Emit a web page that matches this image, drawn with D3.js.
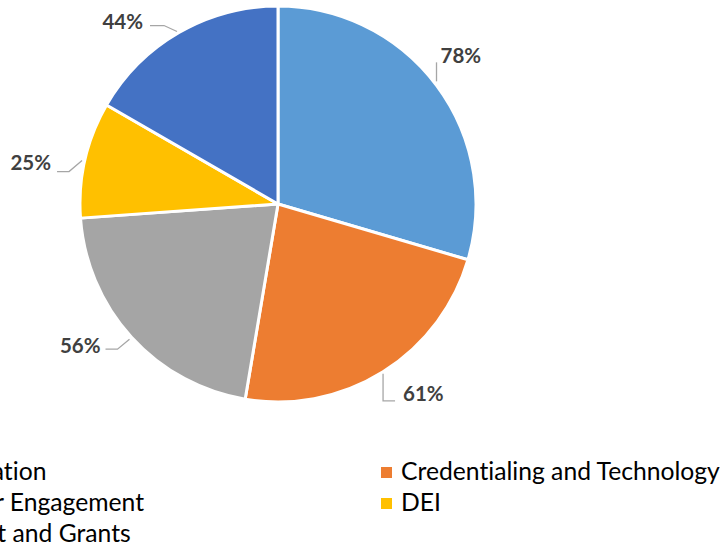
<!DOCTYPE html>
<html>
<head>
<meta charset="utf-8">
<script src="https://cdn.jsdelivr.net/npm/d3@7"></script>
<style>
  html, body { margin: 0; padding: 0; background: #fff; }
  svg { display: block; }
  text { font-variant-ligatures: none; font-feature-settings: "liga" 0; }
</style>
</head>
<body>
<svg id="chart" width="728" height="549"></svg>
<script>
// Share of respondents per focus area
const categories = ["Communication", "Credentialing and Technology", "Stakeholder Engagement", "DEI", "Endowment and Grants"];
const values = [78, 61, 56, 25, 44];
const valueLabels = ["78%", "61%", "56%", "25%", "44%"];
const colors = ["#5B9BD5", "#ED7D31", "#A5A5A5", "#FFC000", "#4472C4"];

// Label placement relative to the slice's outer edge point (layout only)
const labelLayout = [
  { tx: 4,   ty: -28, anchor: "start", leader: [[0, -4], [0, -23]] },
  { tx: 20,  ty: 24,  anchor: "start", leader: [[0, 2], [0, 29], [12, 29]] },
  { tx: -31, ty: 11,  anchor: "end",   leader: [[-2, 2], [-14, 12], [-26, 12]] },
  { tx: -34, ty: 5,   anchor: "end",   leader: [[-3, 1], [-16, 12], [-28, 12]] },
  { tx: -36, ty: -9,  anchor: "end",   leader: [[-2, -1], [-15, -7], [-29, -7]] }
];

const svg = d3.select("#chart");
const cx = 278, cy = 204, r = 198;

const pie = d3.pie().sort(null).value(d => d)(values);
const arc = d3.arc().innerRadius(0).outerRadius(r);

const g = svg.append("g").attr("transform", `translate(${cx},${cy})`);

g.selectAll("path.slice")
  .data(pie)
  .join("path")
  .attr("class", "slice")
  .attr("d", arc)
  .attr("fill", (d, i) => colors[i])
  .attr("stroke", "#fff")
  .attr("stroke-width", 3)
  .attr("stroke-linejoin", "round");

// Data labels with leader lines
pie.forEach((d, i) => {
  const a = (d.startAngle + d.endAngle) / 2;
  const ex = r * Math.sin(a), ey = -r * Math.cos(a);
  const L = labelLayout[i];
  const pts = L.leader.map(p => [ex + p[0], ey + p[1]]);
  g.append("path")
    .attr("d", d3.line()(pts))
    .attr("fill", "none")
    .attr("stroke", "#A6A6A6")
    .attr("stroke-width", 1.3);
  g.append("text")
    .attr("x", ex + L.tx)
    .attr("y", ey + L.ty)
    .attr("text-anchor", L.anchor)
    .attr("dominant-baseline", "middle")
    .attr("font-family", "Lato, 'Open Sans', sans-serif")
    .attr("font-weight", "bold")
    .attr("font-size", 20.5)
    .attr("fill", "#404040")
    .text(valueLabels[i]);
});

// Legend: two columns, row-major order
const legend = svg.append("g");
const probe = legend.append("text")
  .attr("font-family", "Lato, 'Open Sans', sans-serif")
  .attr("font-size", 20)
  .text(categories[1]);
const fs = 20 * 319 / probe.node().getComputedTextLength();
probe.attr("font-size", fs).text(categories[2]);
const leftX = 144 - probe.node().getComputedTextLength();
probe.remove();

const colX = [leftX, 401];
const rowY = [480, 511, 542];
categories.forEach((c, i) => {
  const col = i % 2, row = Math.floor(i / 2);
  const x = colX[col], y = rowY[row];
  legend.append("rect")
    .attr("x", x - 20)
    .attr("y", y - 13)
    .attr("width", 11)
    .attr("height", 11)
    .attr("fill", colors[i]);
  legend.append("text")
    .attr("x", x)
    .attr("y", y)
    .attr("font-family", "Lato, 'Open Sans', sans-serif")
    .attr("font-size", fs)
    .attr("fill", "#000")
    .text(c);
});
</script>
</body>
</html>
